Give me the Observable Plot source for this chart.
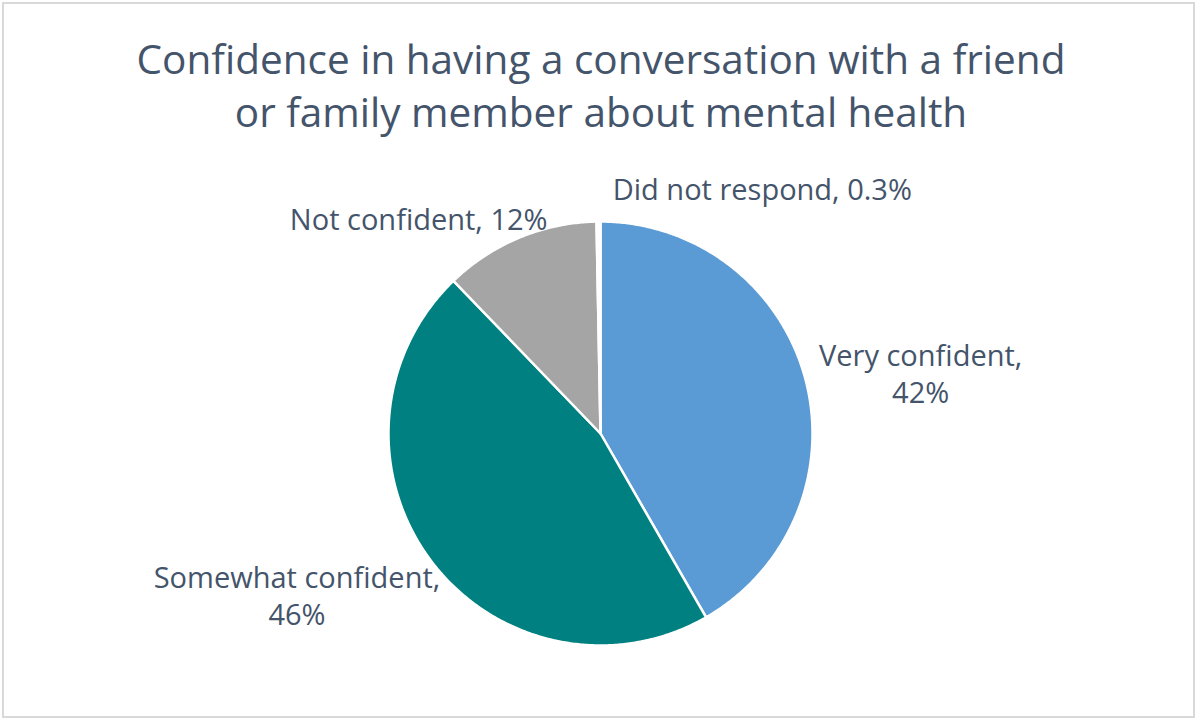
<!DOCTYPE html>
<html>
<head>
<meta charset="utf-8">
<script src="https://cdn.jsdelivr.net/npm/d3@7"></script>
<script src="https://cdn.jsdelivr.net/npm/@observablehq/plot@0.6"></script>
<style>
  html, body { margin: 0; padding: 0; background: #fff; }
  body { width: 1197px; height: 720px; position: relative; overflow: hidden; font-family: "Open Sans", sans-serif; font-variant-ligatures: none; }
  #frame { position: absolute; left: 2px; top: 2px; width: 1193px; height: 716px; border: 2px solid #d9d9d9; box-sizing: border-box; }
  #title { position: absolute; left: 0; top: 32px; width: 1202px; text-align: center; font-size: 40.5px; line-height: 53px; color: #44546A; }
  #chart { position: absolute; left: 0; top: 150px; }
  #chart text { font-variant-ligatures: none; }
</style>
</head>
<body>
<div id="frame"></div>
<div id="title">Confidence in having a conversation with a friend<br>or family member about mental health</div>
<div id="chart"></div>
<script>
// ---- data ----
const categories = ["Very confident", "Somewhat confident", "Not confident", "Did not respond"];
const shares = [41.7, 46.1, 11.9, 0.3];
const labelTexts = ["Very confident,\n42%", "Somewhat confident,\n46%", "Not confident, 12%", "Did not respond, 0.3%"];
const colors = ["#5B9BD5", "#008080", "#A5A5A5", "#FFFFFF"];

// ---- build pie geometry from data ----
const R = 212;
const rows = categories.map((c, i) => ({category: c, share: shares[i], label: labelTexts[i]}));
const arcs = d3.pie().sort(null).value(d => d.share)(rows);

const slicePts = [];
for (const a of arcs) {
  slicePts.push({category: a.data.category, x: 0, y: 0});
  const n = Math.max(2, Math.ceil((a.endAngle - a.startAngle) / (Math.PI / 360)));
  for (let k = 0; k <= n; k++) {
    const t = a.startAngle + (a.endAngle - a.startAngle) * k / n;
    slicePts.push({category: a.data.category, x: R * Math.sin(t), y: R * Math.cos(t)});
  }
}

const nudge = {
  "Very confident": [96, 1],
  "Somewhat confident": [-118, -22],
  "Not confident": [-93, 1],
  "Did not respond": [164, 13]
};
const labelPts = arcs.map(a => {
  const m = (a.startAngle + a.endAngle) / 2;
  const rl = R + 20;
  const c = a.data.category;
  return {category: c, label: a.data.label,
          x: rl * Math.sin(m) + nudge[c][0],
          y: rl * Math.cos(m) + nudge[c][1]};
});

const W = 1197, H = 570, cx = 600, cy = 283;
const chart = Plot.plot({
  width: W,
  height: H,
  margin: 0,
  x: {domain: [-cx, W - cx], range: [0, W], axis: null},
  y: {domain: [cy - H, cy], range: [H, 0], axis: null},
  color: {domain: categories, range: colors},
  style: {background: "transparent", fontFamily: "'Open Sans', sans-serif"},
  marks: [
    Plot.line(slicePts, {x: "x", y: "y", z: "category", fill: "category", stroke: "white", strokeWidth: 2.5, curve: "linear-closed"}),
    Plot.text(labelPts, {x: "x", y: "y", text: "label", fill: "#44546A", fontSize: 29, lineHeight: 1.26, textAnchor: "middle", lineAnchor: "middle"})
  ]
});
document.getElementById("chart").appendChild(chart);
</script>
</body>
</html>
